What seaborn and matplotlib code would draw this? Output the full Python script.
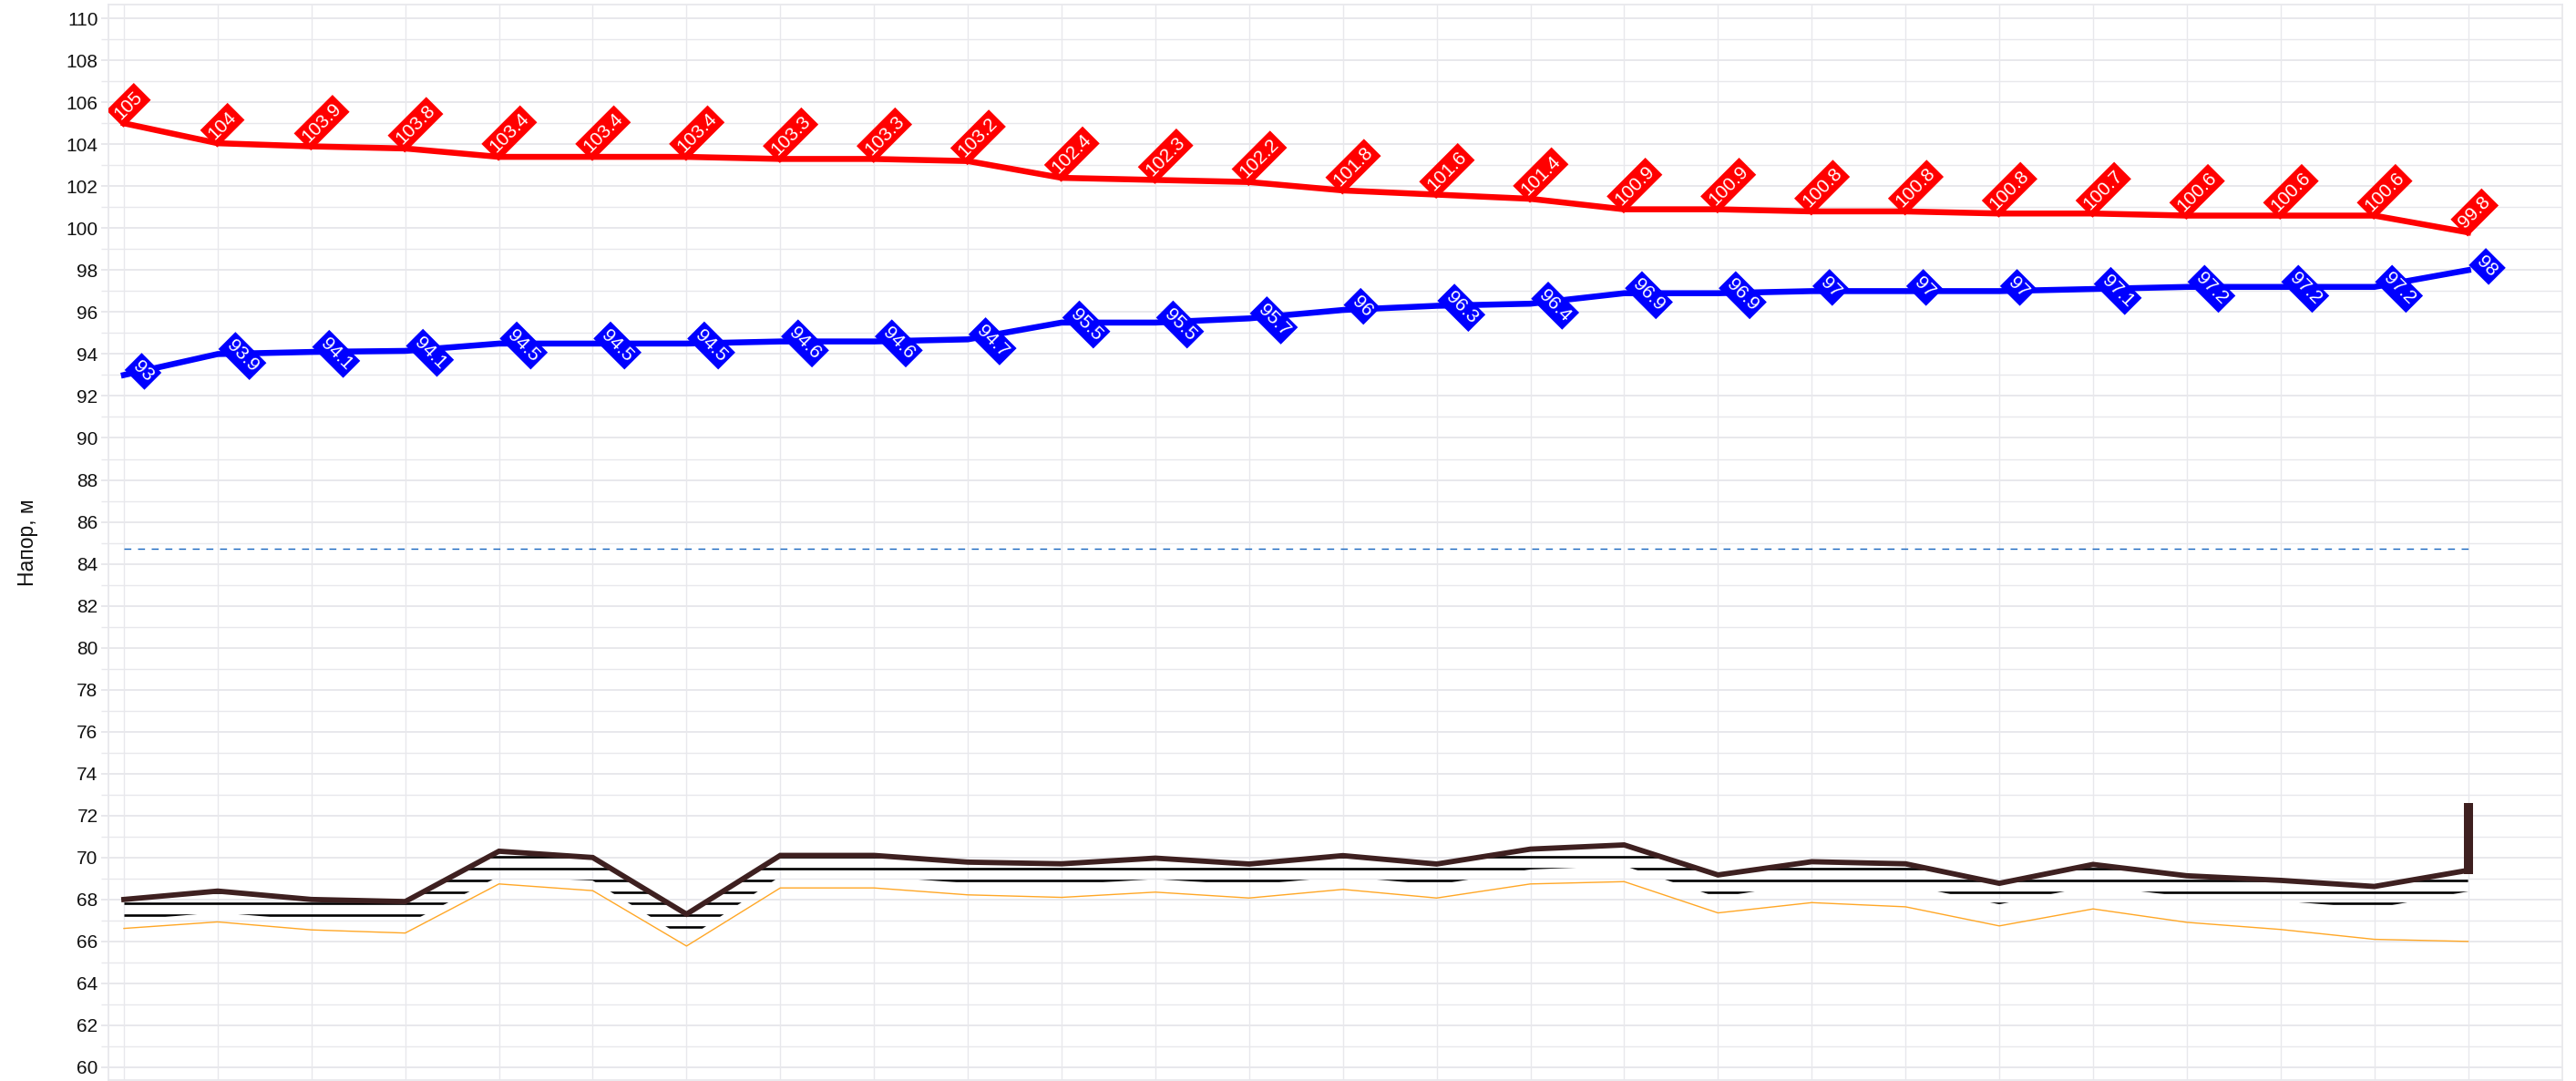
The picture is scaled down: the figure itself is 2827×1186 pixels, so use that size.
import matplotlib
matplotlib.use('Agg')
import matplotlib.pyplot as plt
import seaborn as sns
import numpy as np

# Значения
stations = list(range(26))
red_values = [105, 104.05, 103.9, 103.8, 103.4, 103.4, 103.4, 103.3, 103.3, 103.2, 102.4, 102.3, 102.2,
              101.8, 101.6, 101.4, 100.9, 100.9, 100.8, 100.8, 100.7, 100.7, 100.6, 100.6, 100.6, 99.8]
red_labels = ['105', '104', '103.9', '103.8', '103.4', '103.4', '103.4', '103.3', '103.3', '103.2', '102.4',
              '102.3', '102.2', '101.8', '101.6', '101.4', '100.9', '100.9', '100.8', '100.8', '100.8', '100.7',
              '100.6', '100.6', '100.6', '99.8']
blue_values = [93, 94, 94.1, 94.15, 94.5, 94.5, 94.5, 94.6, 94.6, 94.7, 95.5, 95.5, 95.7, 96.1, 96.3, 96.4,
               96.9, 96.9, 97, 97, 97, 97.1, 97.2, 97.2, 97.2, 98]
blue_labels = ['93', '93.9', '94.1', '94.1', '94.5', '94.5', '94.5', '94.6', '94.6', '94.7', '95.5', '95.5',
               '95.7', '96', '96.3', '96.4', '96.9', '96.9', '97', '97', '97', '97.1', '97.2', '97.2', '97.2', '98']
ground_values = [68.0, 68.4, 68.0, 67.9, 70.3, 70.0, 67.3, 70.1, 70.1, 69.78, 69.7, 69.97, 69.69, 70.09, 69.69,
                 70.4, 70.6, 69.17, 69.8, 69.7, 68.77, 69.67, 69.13, 68.91, 68.62, 69.39]
bottom_values = [66.62, 66.93, 66.55, 66.4, 68.74, 68.42, 65.78, 68.55, 68.55, 68.22, 68.1, 68.35, 68.07, 68.48,
                 68.07, 68.74, 68.85, 67.36, 67.85, 67.65, 66.74, 67.55, 66.91, 66.57, 66.1, 66.0]
hatch_floor = [67.0, 67.38, 67.0, 66.8, 69.1, 68.9, 66.1, 69.1, 69.1, 68.78, 68.7, 68.97, 68.69, 69.09, 68.7,
               69.43, 69.6, 68.1, 68.82, 68.7, 67.77, 68.65, 68.13, 67.93, 67.58, 68.38]
hatch_levels = [66.7, 67.25, 67.8, 68.36, 68.92, 69.48, 70.03]
dashed_level = 84.7
well_last = [69.23, 72.6]
y_ticks = list(range(60, 111, 2))

RED = '#ff0000'
BLUE = '#0000ff'
BROWN = '#3e2020'
ORANGE = '#ffa726'
DASH = '#1565c0'
GRID = '#e8e8ec'
FONT = ['Liberation Sans', 'DejaVu Sans']

sns.set_theme(style='whitegrid')
plt.rcParams['font.family'] = FONT
plt.rcParams['lines.solid_capstyle'] = 'projecting'

W, H = 2827, 1186
fig = plt.figure(figsize=(W / 100, H / 100), dpi=100)
left, right, top, bottom = 119, 2812, 5, 1185
ax = fig.add_axes([left / W, 1 - bottom / H, (right - left) / W, (bottom - top) / H])

# Штриховка между линией земли и нижней границей
band = ax.fill_between(stations, hatch_floor, ground_values, facecolor='none', edgecolor='none')
hatch = ax.hlines(hatch_levels, stations[0], stations[-1] + 0.03, color='black', lw=1.9, zorder=2.5)
hatch.set_clip_path(band.get_paths()[0], ax.transData)

sns.lineplot(x=stations, y=bottom_values, color=ORANGE, lw=1.0, ax=ax, zorder=3)
sns.lineplot(x=stations, y=ground_values, color=BROWN, lw=4.2, ax=ax, zorder=4, solid_joinstyle='miter')
ax.vlines(stations[-1], well_last[0], well_last[1], color=BROWN, lw=7.2, zorder=4)
sns.lineplot(x=stations, y=[dashed_level] * len(stations), color=DASH, lw=1.0, ax=ax, zorder=3,
             linestyle=(0, (5.5, 5.3)))
sns.lineplot(x=stations, y=red_values, color=RED, lw=4.7, ax=ax, zorder=5, solid_joinstyle='miter')
sns.lineplot(x=stations, y=blue_values, color=BLUE, lw=4.7, ax=ax, zorder=5, solid_joinstyle='miter')

# Подписи значений в повёрнутых рамках
box_red = dict(boxstyle='square,pad=0.18', facecolor=RED, edgecolor='none')
box_blue = dict(boxstyle='square,pad=0.18', facecolor=BLUE, edgecolor='none')
for x, y, label in zip(stations, red_values, red_labels):
    ax.annotate(label, (x, y), xytext=(-5.2, 5.4), textcoords='offset points', rotation=45,
                rotation_mode='anchor', ha='left', va='center', color='white', fontsize=15,
                bbox=box_red, zorder=6, clip_on=True)
for x, y, label in zip(stations, blue_values, blue_labels):
    ax.annotate(label, (x, y), xytext=(9.2, 8.8), textcoords='offset points', rotation=-45,
                rotation_mode='anchor', ha='left', va='center', color='white', fontsize=15,
                bbox=box_blue, zorder=6, clip_on=True)

ax.set_xlim(-0.165, 26.005)
ax.set_ylim(59.39, 110.66)
ax.set_xticks(stations)
ax.set_xticklabels([])
ax.set_yticks(y_ticks)
ax.set_yticks([t + 1 for t in y_ticks[:-1]], minor=True)
ax.tick_params(axis='y', which='major', length=5.8, width=1.4, color=GRID, labelsize=15, labelcolor='#111111', pad=2.4, left=True)
ax.tick_params(axis='y', which='minor', length=5.8, width=1.0, color=GRID, left=True)
ax.tick_params(axis='x', length=0)
ax.grid(True, axis='y', which='major', color=GRID, lw=1.4)
ax.grid(True, axis='y', which='minor', color=GRID, lw=1.0)
ax.grid(True, axis='x', which='major', color=GRID, lw=1.0)
ax.set_axisbelow(True)
for spine in ax.spines.values():
    spine.set_color(GRID)
    spine.set_linewidth(1.3)
ax.set_ylabel('Напор, м', fontsize=16.5, color='#111111')
ax.yaxis.set_label_coords((42 - left) / (right - left), 0.5)

fig.savefig('out.png', dpi=100)
plt.close()
